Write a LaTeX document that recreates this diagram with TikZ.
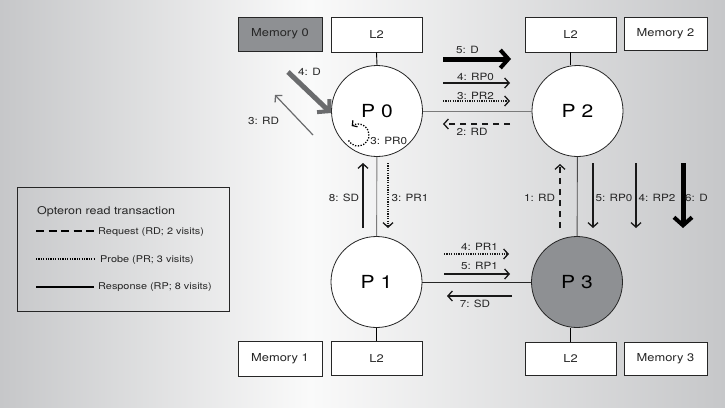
\documentclass[tikz,border=0pt]{standalone}
\usepackage{fontspec}
\setmainfont{TeX Gyre Heros}[FakeStretch=1.17]
\usetikzlibrary{arrows.meta}
\definecolor{bgedge}{HTML}{C6C7C9}
\definecolor{bgmid}{HTML}{FAFAFA}
\definecolor{darkfill}{HTML}{8E9093}
\definecolor{grayarrow}{HTML}{6A6B6D}
\definecolor{linkgray}{HTML}{7A7A7A}
\tikzset{
  box/.style={draw=black!85, line width=0.9pt, fill=white, minimum width=91pt, minimum height=35pt, inner sep=0pt, font=\fontsize{11}{13}\selectfont, text=black!85},
  membox/.style={box, minimum width=84pt, minimum height=34pt},
  proc/.style={circle, draw=black!85, line width=0.8pt, fill=white, minimum size=91pt, inner sep=0pt, font=\fontsize{18}{22}\selectfont},
  lbl/.style={font=\fontsize{10}{12}\selectfont, inner sep=0pt, text=black!85},
  leglbl/.style={font=\fontsize{9.3}{11}\selectfont, inner sep=0pt, text=black!85, anchor=west},
  barb/.style={-{Straight Barb[length=4.5pt,width=10pt,line width=1.3pt]}},
  resp/.style={barb, line width=1.4pt, black!90},
  thinresp/.style={barb, line width=1.1pt, black!90},
  req/.style={barb, line width=1.4pt, black!90, dash pattern=on 6.5pt off 4.5pt},
  probe/.style={barb, line width=1.2pt, black!90, dash pattern=on 1.2pt off 1.2pt},
  datathick/.style={-{Straight Barb[length=8pt,width=18pt,line width=4pt]}, line width=5pt},
  link/.style={line width=0.9pt},
}
\begin{document}
\begin{tikzpicture}[x=1pt,y=-1pt]
\useasboundingbox (0,0) rectangle (725,407);
\shade[left color=bgedge, right color=bgmid] (0,0) rectangle (310,407);
\shade[left color=bgmid, right color=bgedge] (310,0) rectangle (725,407);

% boxes
\node[membox, fill=darkfill] (m0) at (280,34) {Memory 0};
\node[box] (l2a) at (376.5,34.5) {L2};
\node[box] (l2b) at (570.5,34.5) {L2};
\node[membox, minimum width=83pt, minimum height=33pt] (m2) at (665.5,33.5) {Memory 2};
\node[membox, minimum height=35pt] (m1) at (280,358.5) {Memory 1};
\node[box, minimum height=34pt] (l2c) at (376.5,358.5) {L2};
\node[box, minimum height=33pt] (l2d) at (570.5,358.5) {L2};
\node[membox, minimum width=83pt, minimum height=33pt] (m3) at (665.5,358.5) {Memory 3};

% processors
\node[proc] (p0) at (377,111) {P 0};
\node[proc] (p2) at (577.5,111) {P 2};
\node[proc] (p1) at (376.5,282) {P 1};
\node[proc, fill=darkfill] (p3) at (577,282) {P 3};

% links
\draw[link] (l2a.south) -- (p0.north);
\draw[link] (l2b.south) -- (l2b.south |- p2.north);
\draw[link] (p1.south) -- (l2c.north);
\draw[link] (p3.south -| l2d.north) -- (l2d.north);
\draw[link, linkgray] (p0) -- (p2);
\draw[link, linkgray] (p0) -- (p1);
\draw[link, black!85] (p1) -- (p3);
\draw[link, black!70] (p2) -- (p3);

% arrow end points
\coordinate (a5s) at (443,59);   \coordinate (a5e) at (511,59);
\coordinate (a4s) at (443,83);   \coordinate (a4e) at (510,83);
\coordinate (a3s) at (443,101);  \coordinate (a3e) at (510,101);
\coordinate (a2s) at (510,124);  \coordinate (a2e) at (443,124);
\coordinate (dgs) at (288,72);   \coordinate (dge) at (331,113);
\coordinate (rds) at (313,135);  \coordinate (rde) at (275,95);
\coordinate (pr0) at (358,135);
\coordinate (r1s) at (560,228);  \coordinate (r1e) at (560,164);
\coordinate (rp0s) at (593,163); \coordinate (rp0e) at (593,228);
\coordinate (rp2s) at (636,163); \coordinate (rp2e) at (636,228);
\coordinate (d6s) at (683,163);  \coordinate (d6e) at (683,228);
\coordinate (sd8s) at (363,228); \coordinate (sd8e) at (363,163);
\coordinate (pr1s) at (388,163); \coordinate (pr1e) at (388,228);
\coordinate (q4s) at (444,254);  \coordinate (q4e) at (509,254);
\coordinate (q5s) at (444,274);  \coordinate (q5e) at (510,274);
\coordinate (q7s) at (512,296);  \coordinate (q7e) at (447,296);

% arrows
\draw[datathick, black] (a5s) -- (a5e);
\draw[resp] (a4s) -- (a4e);
\draw[probe] (a3s) -- (a3e);
\draw[req] (a2s) -- (a2e);
\draw[datathick, grayarrow] (dgs) -- (dge);
\draw[barb, line width=1.2pt, grayarrow] (rds) -- (rde);
\draw[line width=1.3pt, dash pattern=on 1.3pt off 1.5pt, -{Straight Barb[length=3.5pt,width=8pt,line width=1.2pt]}] (pr0) ++(150:11) arc[start angle=150, end angle=-125, radius=11];
\draw[req] (r1s) -- (r1e);
\draw[resp] (rp0s) -- (rp0e);
\draw[thinresp] (rp2s) -- (rp2e);
\draw[datathick, black] (d6s) -- (d6e);
\draw[resp] (sd8s) -- (sd8e);
\draw[probe] (pr1s) -- (pr1e);
\draw[probe] (q4s) -- (q4e);
\draw[resp] (q5s) -- (q5e);
\draw[resp] (q7s) -- (q7e);

% labels
\node[lbl] (t5d) at (467.5,49.5) {5: D};
\node[lbl] (t4rp0) at (475.5,77) {4: RP0};
\node[lbl] (t3pr2) at (475.5,95.5) {3: PR2};
\node[lbl] (t2rd) at (472,131.5) {2: RD};
\node[lbl] (t4d) at (309.5,72) {4: D};
\node[lbl] (t3rd) at (263.5,120.5) {3: RD};
\node[lbl] (t3pr0) at (388.7,140.5) {3: PR0};
\node[lbl] (t8sd) at (344,197.5) {8: SD};
\node[lbl] (t3pr1) at (410,197.5) {3: PR1};
\node[lbl] (t4pr1) at (479.5,246.5) {4: PR1};
\node[lbl] (t5rp1) at (479.5,266) {5: RP1};
\node[lbl] (t7sd) at (475,304) {7: SD};
\node[lbl] (t1rd) at (539.5,197.5) {1: RD};
\node[lbl] (t5rp0) at (614,197.5) {5: RP0};
\node[lbl] (t4rp2) at (657,197.5) {4: RP2};
\node[lbl] (t6d) at (696.5,197.5) {6: D};

% legend
\node[draw=black!85, line width=0.9pt, minimum width=212pt, minimum height=124pt, inner sep=0pt] (leg) at (123,249) {};
\node[leglbl, font=\fontsize{10.7}{12}\selectfont] (lt) at (37,211.7) {Opteron read transaction};
\coordinate (lg1a) at (36,231); \coordinate (lg1b) at (94,231);
\coordinate (lg2a) at (36,259); \coordinate (lg2b) at (94,259);
\coordinate (lg3a) at (36,287); \coordinate (lg3b) at (94,287);
\draw[line width=2.4pt, dash pattern=on 8pt off 4.5pt] (lg1a) -- (lg1b);
\draw[line width=1.3pt, dash pattern=on 1.2pt off 1.2pt] (lg2a) -- (lg2b);
\draw[line width=2.6pt] (lg3a) -- (lg3b);
\node[leglbl] (l1) at (98,231.7) {Request (RD; 2 visits)};
\node[leglbl] (l2) at (100,260) {Probe (PR; 3 visits)};
\node[leglbl] (l3) at (98,287) {Response (RP; 8 visits)};
\end{tikzpicture}
\end{document}
